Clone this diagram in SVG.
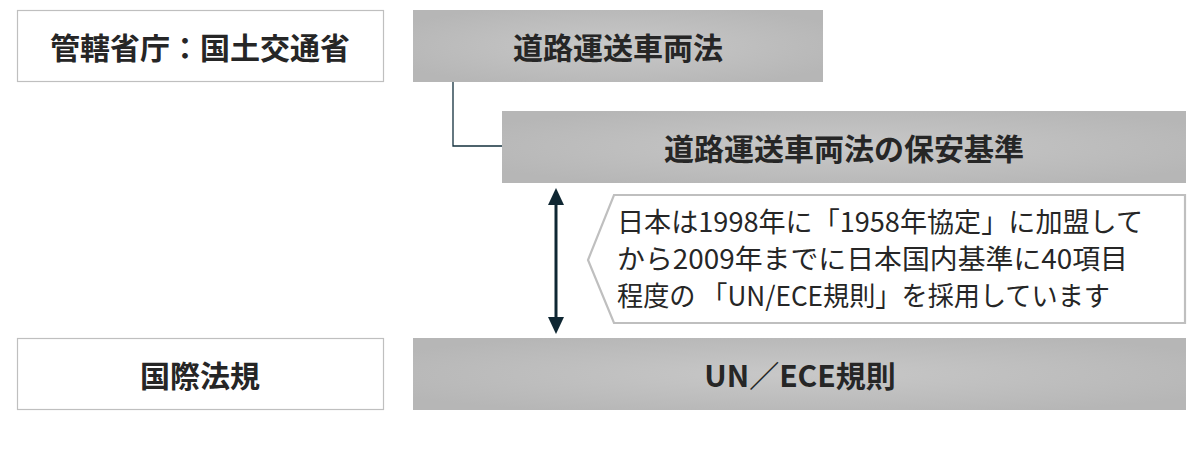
<svg xmlns="http://www.w3.org/2000/svg" width="1202" height="460" viewBox="0 0 1202 460">
  <style>
    .wbox { fill: #ffffff; stroke: #bfbfbf; stroke-width: 1.2; }
    .gbox { fill: url(#gg); }
    .title { font-family: "Noto Sans CJK JP", "Noto Sans", sans-serif; font-weight: 700; font-size: 30px; fill: #262626; text-anchor: middle; dominant-baseline: central; }
    .note { font-family: "Noto Sans CJK JP", "Noto Sans", sans-serif; font-weight: 400; font-size: 27px; fill: #262626; }
    .conn { fill: none; stroke: #13303d; stroke-width: 1.3; }
    .arr { fill: none; stroke: #0f2733; stroke-width: 3; }
    .head { fill: #0f2733; }
  </style>
  <defs>
    <radialGradient id="gg" cx="0.5" cy="0.5" r="0.6">
      <stop offset="0" stop-color="#c8c8c8"/>
      <stop offset="1" stop-color="#b6b6b6"/>
    </radialGradient>
  </defs>

  <g id="connectors">
    <path class="conn" d="M453,82 V146 H502"/>
    <line class="arr" x1="556" y1="200" x2="556" y2="322"/>
    <polygon class="head" points="556,188 564,205 548,205"/>
    <polygon class="head" points="556,334 564,317 548,317"/>
  </g>

  <g id="node-ministry">
    <rect class="wbox" x="17.5" y="10.5" width="366" height="71"/>
    <text class="title" x="200" y="46">管轄省庁：国土交通省</text>
  </g>

  <g id="node-law">
    <rect class="gbox" x="413" y="10" width="410" height="72"/>
    <text class="title" x="618" y="46">道路運送車両法</text>
  </g>

  <g id="node-safety">
    <rect class="gbox" x="502" y="111" width="684" height="72"/>
    <text class="title" x="844" y="147">道路運送車両法の保安基準</text>
  </g>

  <g id="node-callout">
    <path d="M614,195 H1185 V323 H614 L588,260 Z" fill="#ffffff" stroke="#bfbfbf" stroke-width="2.2"/>
    <text class="note" x="617" y="232" textLength="526" lengthAdjust="spacingAndGlyphs">日本は1998年に「1958年協定」に加盟して</text>
    <text class="note" x="617" y="269" textLength="511" lengthAdjust="spacingAndGlyphs">から2009年までに日本国内基準に40項目</text>
    <text class="note" x="617" y="306" textLength="493" lengthAdjust="spacingAndGlyphs">程度の 「UN/ECE規則」を採用しています</text>
  </g>

  <g id="node-intl">
    <rect class="wbox" x="17.5" y="338.5" width="366" height="71"/>
    <text class="title" x="200" y="374">国際法規</text>
  </g>

  <g id="node-unece">
    <rect class="gbox" x="413" y="338" width="773" height="72"/>
    <text class="title" x="800" y="374">UN／ECE規則</text>
  </g>
</svg>
